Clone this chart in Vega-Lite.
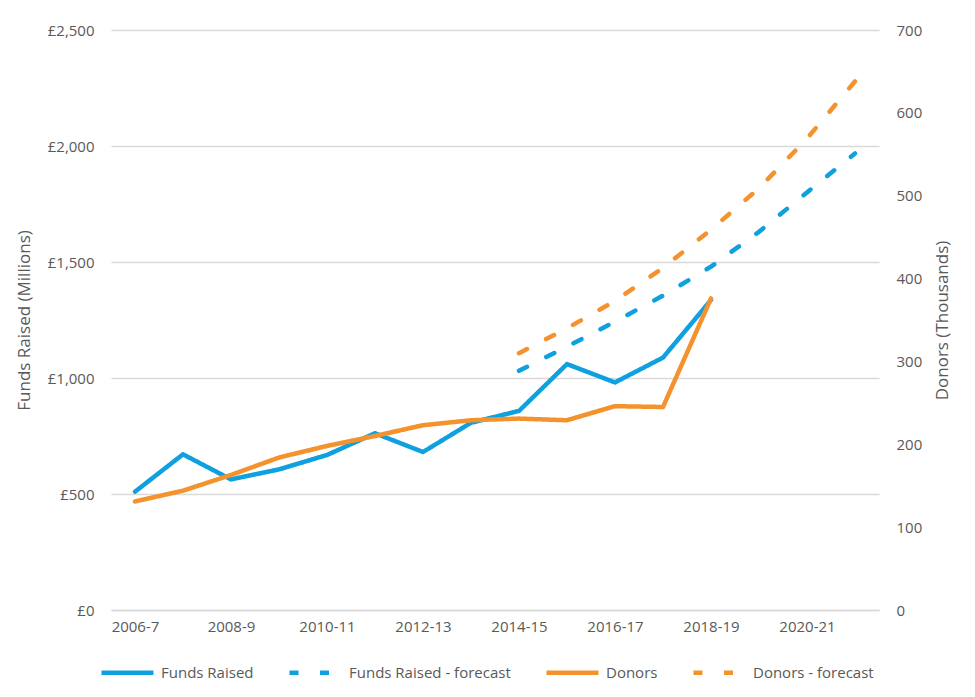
{
  "$schema": "https://vega.github.io/schema/vega-lite/v6.json",
  "width": 768,
  "height": 580,
  "autosize": {"type": "none"},
  "padding": {"left": 111, "top": 30, "right": 96, "bottom": 87},
  "background": "white",
  "config": {
    "font": "Open Sans",
    "view": {"stroke": null},
    "axis": {"labelColor": "#595959", "titleColor": "#595959", "labelFontSize": 15, "titleFontSize": 17, "titleFontWeight": "normal"}
  },
  "data": {"values": [
    {"year": "2006-7", "series": "Funds Raised", "measure": "funds", "value": 510},
    {"year": "2007-8", "series": "Funds Raised", "measure": "funds", "value": 671},
    {"year": "2008-9", "series": "Funds Raised", "measure": "funds", "value": 563},
    {"year": "2009-10", "series": "Funds Raised", "measure": "funds", "value": 606},
    {"year": "2010-11", "series": "Funds Raised", "measure": "funds", "value": 668},
    {"year": "2011-12", "series": "Funds Raised", "measure": "funds", "value": 762},
    {"year": "2012-13", "series": "Funds Raised", "measure": "funds", "value": 681},
    {"year": "2013-14", "series": "Funds Raised", "measure": "funds", "value": 807},
    {"year": "2014-15", "series": "Funds Raised", "measure": "funds", "value": 858},
    {"year": "2015-16", "series": "Funds Raised", "measure": "funds", "value": 1060},
    {"year": "2016-17", "series": "Funds Raised", "measure": "funds", "value": 981},
    {"year": "2017-18", "series": "Funds Raised", "measure": "funds", "value": 1088},
    {"year": "2018-19", "series": "Funds Raised", "measure": "funds", "value": 1336},
    {"year": "2014-15", "series": "Funds Raised - forecast", "measure": "funds", "value": 1031},
    {"year": "2015-16", "series": "Funds Raised - forecast", "measure": "funds", "value": 1135},
    {"year": "2016-17", "series": "Funds Raised - forecast", "measure": "funds", "value": 1243},
    {"year": "2017-18", "series": "Funds Raised - forecast", "measure": "funds", "value": 1355},
    {"year": "2018-19", "series": "Funds Raised - forecast", "measure": "funds", "value": 1480},
    {"year": "2019-20", "series": "Funds Raised - forecast", "measure": "funds", "value": 1630},
    {"year": "2020-21", "series": "Funds Raised - forecast", "measure": "funds", "value": 1800},
    {"year": "2021-22", "series": "Funds Raised - forecast", "measure": "funds", "value": 1968},
    {"year": "2006-7", "series": "Donors", "measure": "donors", "value": 131},
    {"year": "2007-8", "series": "Donors", "measure": "donors", "value": 144},
    {"year": "2008-9", "series": "Donors", "measure": "donors", "value": 163},
    {"year": "2009-10", "series": "Donors", "measure": "donors", "value": 184},
    {"year": "2010-11", "series": "Donors", "measure": "donors", "value": 198},
    {"year": "2011-12", "series": "Donors", "measure": "donors", "value": 210},
    {"year": "2012-13", "series": "Donors", "measure": "donors", "value": 223},
    {"year": "2013-14", "series": "Donors", "measure": "donors", "value": 229},
    {"year": "2014-15", "series": "Donors", "measure": "donors", "value": 231},
    {"year": "2015-16", "series": "Donors", "measure": "donors", "value": 229},
    {"year": "2016-17", "series": "Donors", "measure": "donors", "value": 246},
    {"year": "2017-18", "series": "Donors", "measure": "donors", "value": 245},
    {"year": "2018-19", "series": "Donors", "measure": "donors", "value": 376},
    {"year": "2014-15", "series": "Donors - forecast", "measure": "donors", "value": 310},
    {"year": "2015-16", "series": "Donors - forecast", "measure": "donors", "value": 340},
    {"year": "2016-17", "series": "Donors - forecast", "measure": "donors", "value": 373},
    {"year": "2017-18", "series": "Donors - forecast", "measure": "donors", "value": 413},
    {"year": "2018-19", "series": "Donors - forecast", "measure": "donors", "value": 459},
    {"year": "2019-20", "series": "Donors - forecast", "measure": "donors", "value": 509},
    {"year": "2020-21", "series": "Donors - forecast", "measure": "donors", "value": 569},
    {"year": "2021-22", "series": "Donors - forecast", "measure": "donors", "value": 638}
  ]},
  "encoding": {
    "x": {
      "field": "year", "type": "ordinal", "sort": null,
      "scale": {"type": "point", "padding": 0.5, "domain": ["2006-7","2007-8","2008-9","2009-10","2010-11","2011-12","2012-13","2013-14","2014-15","2015-16","2016-17","2017-18","2018-19","2019-20","2020-21","2021-22"]},
      "axis": {"title": null, "values": ["2006-7","2008-9","2010-11","2012-13","2014-15","2016-17","2018-19","2020-21"], "labelAngle": 0, "ticks": false, "domainColor": "#D9D9D9", "domainWidth": 1.5, "labelPadding": 9, "grid": false}
    },
    "color": {
      "field": "series", "type": "nominal",
      "scale": {"domain": ["Funds Raised", "Funds Raised - forecast", "Donors", "Donors - forecast"], "range": ["#0FA0DF", "#0FA0DF", "#F4932D", "#F4932D"]},
      "legend": {"title": null, "orient": "none", "direction": "horizontal", "legendX": -12, "legendY": 614, "symbolType": "stroke", "symbolSize": 2704, "symbolStrokeWidth": 4.5, "labelFontSize": 15, "labelColor": "#595959", "labelLimit": 400, "columnPadding": 26, "labelOffset": 5}
    },
    "strokeDash": {
      "field": "series", "type": "nominal",
      "scale": {"domain": ["Funds Raised", "Funds Raised - forecast", "Donors", "Donors - forecast"], "range": [[1, 0], [9, 21.5], [1, 0], [9, 21.5]]},
      "legend": {"title": null, "orient": "none", "direction": "horizontal", "legendX": -12, "legendY": 614, "symbolType": "stroke", "symbolSize": 2704, "symbolStrokeWidth": 4.5, "labelFontSize": 15, "labelColor": "#595959", "labelLimit": 400, "columnPadding": 26, "labelOffset": 5}
    }
  },
  "layer": [
    {
      "transform": [{"filter": "datum.measure == 'funds'"}],
      "mark": {"type": "line", "strokeWidth": 4.5, "strokeCap": "round", "strokeJoin": "round"},
      "encoding": {
        "y": {
          "field": "value", "type": "quantitative",
          "scale": {"domain": [0, 2500]},
          "axis": {"title": "Funds Raised (Millions)", "values": [0, 500, 1000, 1500, 2000, 2500], "labelExpr": "'£' + format(datum.value, ',')", "domain": false, "ticks": false, "gridColor": "#D9D9D9", "gridWidth": 1.5, "labelPadding": 17, "titlePadding": 14}
        }
      }
    },
    {
      "transform": [{"filter": "datum.measure == 'donors'"}],
      "mark": {"type": "line", "strokeWidth": 4.5, "strokeCap": "round", "strokeJoin": "round"},
      "encoding": {
        "y": {
          "field": "value", "type": "quantitative",
          "scale": {"domain": [0, 700]},
          "axis": {"title": "Donors (Thousands)", "orient": "right", "values": [0, 100, 200, 300, 400, 500, 600, 700], "domain": false, "ticks": false, "grid": false, "labelPadding": 17, "titlePadding": 30, "titleAngle": 270}
        }
      }
    }
  ],
  "resolve": {"scale": {"y": "independent"}}
}
